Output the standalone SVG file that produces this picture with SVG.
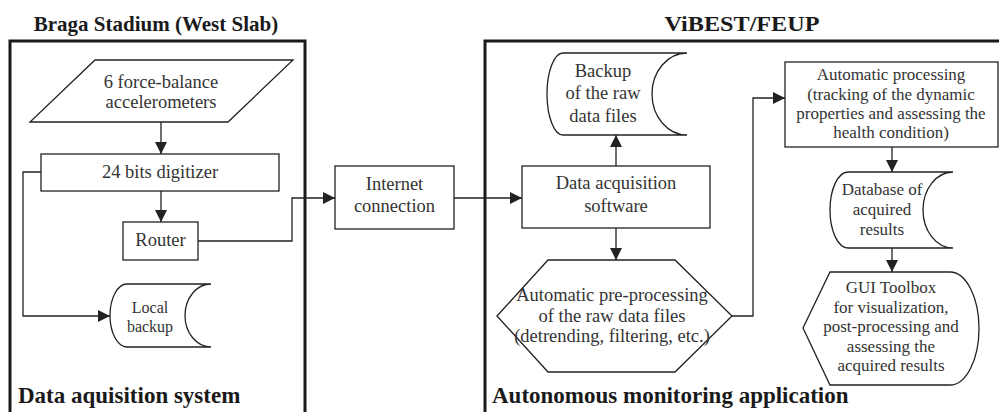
<svg xmlns="http://www.w3.org/2000/svg" width="999" height="412" viewBox="0 0 999 412">
<style>
.frame{fill:none;stroke:#1a1a1a;stroke-width:3}
.shape{fill:#fff;stroke:#222;stroke-width:1.3}
.conn{fill:none;stroke:#222;stroke-width:1.3}
text{font-family:"Liberation Serif","Times New Roman",serif;fill:#333;text-anchor:middle}
.t18{font-size:18.5px}
.t17{font-size:17px}
.t16{font-size:16px}
.title{font-size:21px;font-weight:bold;fill:#1a1a1a}
.label{font-size:23px;font-weight:bold;fill:#1a1a1a;text-anchor:start}
</style>
<defs>
<marker id="arr" markerUnits="userSpaceOnUse" markerWidth="13" markerHeight="13" refX="12" refY="6" orient="auto">
<path d="M0,0 L12,6 L0,12 z" fill="#222"/>
</marker>
</defs>

<g id="frames">
<rect class="frame" x="10" y="41" width="295" height="420"/>
<rect class="frame" x="485" y="41" width="560" height="420"/>
<text class="title" x="156" y="31">Braga Stadium (West Slab)</text>
<text class="title" x="742" y="31" textLength="155" lengthAdjust="spacingAndGlyphs">ViBEST/FEUP</text>
<text class="label" x="18" y="403">Data aquisition system</text>
<text class="label" x="492" y="403">Autonomous monitoring application</text>
</g>

<g id="accelerometers">
<polygon class="shape" points="95,60 293,60 228,122 30,122"/>
<text class="t18" x="161" y="88">6 force-balance</text>
<text class="t18" x="161" y="108">accelerometers</text>
</g>

<g id="digitizer">
<rect class="shape" x="41" y="154" width="238" height="37"/>
<text class="t18" x="160" y="178">24 bits digitizer</text>
</g>

<g id="router">
<rect class="shape" x="123" y="222" width="75" height="38"/>
<text class="t18" x="160.5" y="246">Router</text>
</g>

<g id="local-backup">
<path class="shape" d="M127,284 H211 A26,31.5 0 0 0 211,347 H127 A17,31.5 0 0 1 127,284 Z"/>
<text class="t16" x="150" y="313">Local</text>
<text class="t16" x="150" y="332">backup</text>
</g>

<g id="internet">
<rect class="shape" x="335" y="166" width="119" height="63"/>
<text class="t18" x="394.5" y="190">Internet</text>
<text class="t18" x="394.5" y="212">connection</text>
</g>

<g id="raw-backup">
<path class="shape" d="M563,53 H687 A35,41 0 0 0 687,135 H563 A16,41 0 0 1 563,53 Z"/>
<text class="t18" x="603" y="77">Backup</text>
<text class="t18" x="603" y="99">of the raw</text>
<text class="t18" x="603" y="122">data files</text>
</g>

<g id="das">
<rect class="shape" x="522" y="166" width="188" height="62"/>
<text class="t18" x="616" y="189">Data acquisition</text>
<text class="t18" x="616" y="212">software</text>
</g>

<g id="preprocessing">
<polygon class="shape" points="497,316 548,260 675,260 732,316 675,372 548,372"/>
<text class="t18" x="612" y="301">Automatic pre-processing</text>
<text class="t18" x="612" y="322">of the raw data files</text>
<text class="t18" x="612" y="342">(detrending, filtering, etc.)</text>
</g>

<g id="processing">
<rect class="shape" x="785" y="62" width="213" height="85"/>
<text class="t17" x="891" y="80">Automatic processing</text>
<text class="t17" x="891" y="100">(tracking of the dynamic</text>
<text class="t17" x="891" y="119">properties and assessing the</text>
<text class="t17" x="891" y="138">health condition)</text>
</g>

<g id="database">
<path class="shape" d="M848,172 H953 A30,38 0 0 0 953,248 H848 A18,38 0 0 1 848,172 Z"/>
<text class="t17" x="882" y="195">Database of</text>
<text class="t17" x="882" y="215">acquired</text>
<text class="t17" x="882" y="235">results</text>
</g>

<g id="gui">
<path class="shape" d="M803,328 L830,272 H950 A29,56.5 0 0 1 950,385 H830 Z"/>
<text class="t17" x="891" y="293">GUI Toolbox</text>
<text class="t17" x="891" y="313">for visualization,</text>
<text class="t17" x="891" y="332">post-processing and</text>
<text class="t17" x="891" y="352">assessing the</text>
<text class="t17" x="891" y="371">acquired results</text>
</g>

<g id="connectors">
<path class="conn" d="M161,122 V154" marker-end="url(#arr)"/>
<path class="conn" d="M161,191 V222" marker-end="url(#arr)"/>
<path class="conn" d="M41,172 H23 V316 H110" marker-end="url(#arr)"/>
<path class="conn" d="M198,241 H292 V198 H335" marker-end="url(#arr)"/>
<path class="conn" d="M454,198 H522" marker-end="url(#arr)"/>
<path class="conn" d="M616,166 V135" marker-end="url(#arr)"/>
<path class="conn" d="M616,228 V260" marker-end="url(#arr)"/>
<path class="conn" d="M732,316 H753 V98 H785" marker-end="url(#arr)"/>
<path class="conn" d="M892,147 V172" marker-end="url(#arr)"/>
<path class="conn" d="M892,248 V272" marker-end="url(#arr)"/>
</g>
</svg>
